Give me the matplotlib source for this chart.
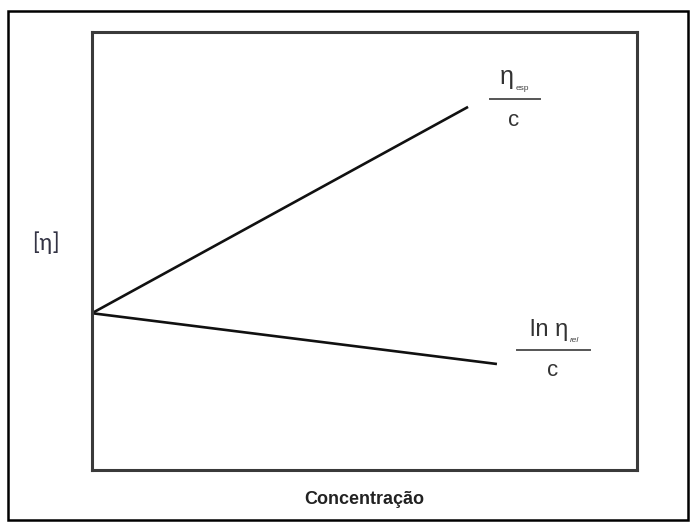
import matplotlib
matplotlib.use("Agg")
import matplotlib.pyplot as plt
from matplotlib.patches import Rectangle

# Data (axes units 0..1)
intercept = 0.358
upper_x = [0.0, 0.69]
upper_y = [intercept, 0.829]
lower_x = [0.0, 0.743]
lower_y = [intercept, 0.242]
xlabel = "Concentração"
ylabel = "[η]"

W, H = 695, 527
fig = plt.figure(figsize=(W / 100, H / 100), dpi=100)

# outer frame
fig.patches.append(Rectangle((8 / W, 1 - 520 / H), (688 - 8) / W, (520 - 11) / H,
                             transform=fig.transFigure, fill=False,
                             edgecolor="black", linewidth=1.8))

L, R, T, B = 92, 637, 32, 470
ax = fig.add_axes([L / W, 1 - B / H, (R - L) / W, (B - T) / H])
ax.set_xlim(0, 1)
ax.set_ylim(0, 1)
ax.set_xticks([])
ax.set_yticks([])
for s in ax.spines.values():
    s.set_color("#3a3a3a")
    s.set_linewidth(2.2)

ax.plot(upper_x, upper_y, color="#111111", lw=1.9, solid_capstyle="butt")
ax.plot(lower_x, lower_y, color="#111111", lw=1.9, solid_capstyle="butt")

def px(x, y):
    return ((x - L) / (R - L), (B - y) / (B - T))

f = "Liberation Sans"
# eta_esp / c
ax.text(*px(507, 77), "η", transform=ax.transAxes, fontsize=18, family=f,
        ha="center", va="center", color="#333333")
ax.text(*px(516, 88), "esp", transform=ax.transAxes, fontsize=6, family=f,
        ha="left", va="center", color="#444444")
ax.plot(*zip(px(490, 99), px(540, 99)), transform=ax.transAxes, color="#555555",
        lw=1.4, clip_on=False)
ax.text(*px(514, 121), "c", transform=ax.transAxes, fontsize=16, family=f,
        ha="center", va="center", color="#333333")

# ln eta_rel / c
ax.text(*px(549, 330), "ln η", transform=ax.transAxes, fontsize=17, family=f,
        ha="center", va="center", color="#333333")
ax.text(*px(570, 341), "rel", transform=ax.transAxes, fontsize=6, family=f,
        ha="left", va="center", style="italic", color="#444444")
ax.plot(*zip(px(517, 350), px(590, 350)), transform=ax.transAxes, color="#555555",
        lw=1.4, clip_on=False)
ax.text(*px(553, 370), "c", transform=ax.transAxes, fontsize=16, family=f,
        ha="center", va="center", color="#333333")

fig.text(46 / W, 1 - 243 / H, ylabel, fontsize=17, family="Carlito",
         ha="center", va="center", color="#333344")
fig.text(((L + R) / 2) / W, 1 - 500 / H, xlabel, fontsize=13, family=f,
         weight="bold", ha="center", va="center", color="#222222")

fig.savefig("out.png", dpi=100)
